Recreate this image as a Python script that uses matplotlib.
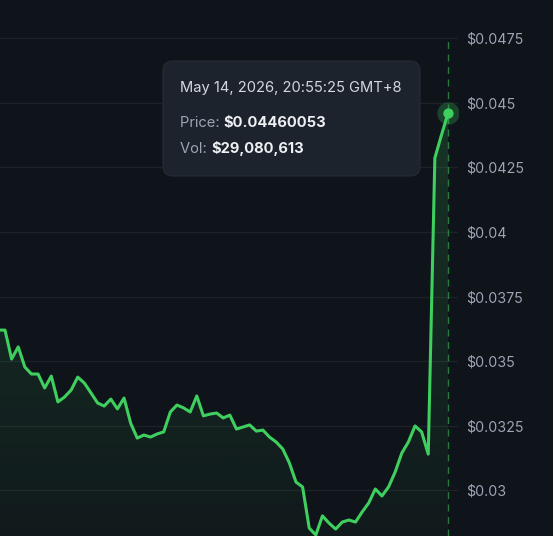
import numpy as np
import matplotlib
matplotlib.use('Agg')
import matplotlib.pyplot as plt
from matplotlib.patches import FancyBboxPatch
from matplotlib.colors import to_rgb

# price series (one point per interval, last point is the hovered one)
prices = [
    0.03620, 0.03620, 0.03508, 0.03555, 0.03477, 0.03450, 0.03450, 0.03396,
    0.03442, 0.03342, 0.03361, 0.03388, 0.03438, 0.03415, 0.03377, 0.03338,
    0.03326, 0.03353, 0.03315, 0.03357, 0.03260, 0.03202, 0.03214, 0.03206,
    0.03218, 0.03226, 0.03303, 0.03330, 0.03319, 0.03303, 0.03365, 0.03288,
    0.03295, 0.03299, 0.03280, 0.03291, 0.03237, 0.03245, 0.03253, 0.03229,
    0.03233, 0.03206, 0.03187, 0.03160, 0.03106, 0.03032, 0.03013, 0.02854,
    0.02827, 0.02901, 0.02873, 0.02850, 0.02877, 0.02885, 0.02877, 0.02916,
    0.02951, 0.03005, 0.02978, 0.03013, 0.03071, 0.03144, 0.03187, 0.03249,
    0.03226, 0.03140, 0.04286, 0.04375, 0.04460053,
]
tick_values = [0.03, 0.0325, 0.035, 0.0375, 0.04, 0.0425, 0.045, 0.0475]
tick_labels = ["$0.03", "$0.0325", "$0.035", "$0.0375", "$0.04", "$0.0425", "$0.045", "$0.0475"]

tooltip_date = "May 14, 2026, 20:55:25 GMT+8"
tooltip_price = "$0.04460053"
tooltip_vol = "$29,080,613"

BG = "#0f131a"
GRID = "#1d2229"
GREEN = "#3fcf5f"
TXT = "#9ba5b3"

plt.rcParams["font.family"] = ["Inter", "DejaVu Sans"]

W, H, DPI = 553, 536, 100
fig = plt.figure(figsize=(W / DPI, H / DPI), dpi=DPI)
fig.patch.set_facecolor(BG)
ax = fig.add_axes([0, 0, 458 / W, 1])
ax.set_facecolor(BG)

x = np.arange(len(prices)) - 1
y = np.array(prices)

ymin, ymax = 0.028231, 0.048975
ax.set_ylim(ymin, ymax)
ax.set_xlim(-0.756, 68.5)

# gradient fill below the line
r, g, b = to_rgb(GREEN)
grad = np.zeros((256, 2, 4))
grad[..., 0], grad[..., 1], grad[..., 2] = r, g, b
grad[..., 3] = np.linspace(0.18, 0.04, 256)[:, None]
top = y.max()
im = ax.imshow(grad, extent=[x[0], x[-1], ymin, top], aspect="auto",
               origin="upper", zorder=1, interpolation="bilinear")
poly = ax.fill_between(x, y, ymin, color="none", lw=0)
im.set_clip_path(poly.get_paths()[0], transform=ax.transData)

ax.plot(x, y, color=GREEN, lw=2.2, zorder=3, solid_joinstyle="round")

# hover marker + dashed guide
hx, hy = x[-1], y[-1]
ax.plot([hx, hx], [ymin, 0.0475], color=GREEN, lw=1, ls=(0, (5, 4)), alpha=0.55, zorder=2)
ax.scatter([hx], [hy], s=260, color=GREEN, alpha=0.25, lw=0, zorder=4)
ax.scatter([hx], [hy], s=55, color=GREEN, lw=0, zorder=5)

ax.set_yticks(tick_values)
ax.set_yticklabels(tick_labels)
ax.yaxis.tick_right()
ax.tick_params(axis="y", length=0, pad=6, labelsize=10.3, labelcolor=TXT)
ax.set_xticks([])
ax.grid(axis="y", color=GRID, lw=1)
ax.set_axisbelow(True)
for s in ax.spines.values():
    s.set_visible(False)

# tooltip box
box = FancyBboxPatch((163 / W, 1 - 176 / H), 257 / W, 115 / H,
                     boxstyle="round,pad=0,rounding_size=0.018",
                     transform=fig.transFigure, facecolor="#1d232c",
                     edgecolor="#262c35", lw=0.8, zorder=10)
fig.patches.append(box)

fs = 10.6
fig.text(180 / W, 1 - 88 / H, tooltip_date, color="#d4d8de", fontsize=fs,
         va="center", ha="left", zorder=11)
renderer = fig.canvas.get_renderer()
for label, value, ypx in [("Price: ", tooltip_price, 123), ("Vol: ", tooltip_vol, 149)]:
    t = fig.text(180 / W, 1 - ypx / H, label, color=TXT, fontsize=fs,
                 va="center", ha="left", zorder=11)
    bb = t.get_window_extent(renderer)
    fig.text(bb.x1 / W, 1 - ypx / H, value, color="#eef0f3", fontsize=fs,
             fontweight="bold", va="center", ha="left", zorder=11)

fig.savefig("out.png", dpi=DPI, facecolor=BG)
